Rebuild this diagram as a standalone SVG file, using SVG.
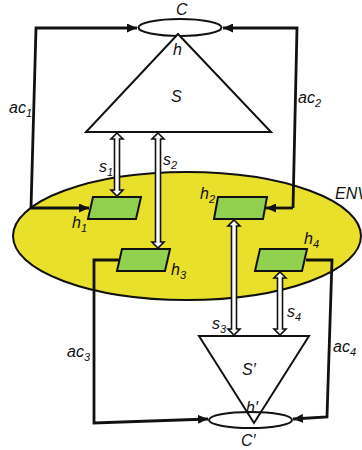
<svg xmlns="http://www.w3.org/2000/svg" width="362" height="450" viewBox="0 0 362 450">
<style>
.t{font-family:"Liberation Sans",Arial,sans-serif;font-style:italic;font-size:16px;fill:#111}
.sub{font-size:11px}
.ln{fill:none;stroke:#111;stroke-width:2.8;stroke-linejoin:miter}
.sh{fill:#fff;stroke:#111;stroke-width:2}
.hp{fill:#92D050;stroke:#111;stroke-width:2}
.da{fill:#fff;stroke:#111;stroke-width:1.6}
</style>
<defs>
<marker id="ah" markerUnits="userSpaceOnUse" markerWidth="10" markerHeight="9" refX="10" refY="4.5" orient="auto">
<path d="M0,0 L10,4.5 L0,9 Z" fill="#111"/>
</marker>
</defs>
<g id="ENV">
<ellipse cx="187" cy="236" rx="174" ry="64" fill="#E8E02A" stroke="#111" stroke-width="2"/>
<text class="t" x="335" y="199">ENV</text>
</g>
<g id="C">
<ellipse cx="180" cy="27.5" rx="41.5" ry="8.5" fill="#fff" stroke="#111" stroke-width="2"/>
<text class="t" x="176" y="15">C</text>
</g>
<g id="S">
<polygon class="sh" points="178,34 271,132 86,132"/>
<text class="t" x="173" y="55">h</text>
<text class="t" x="171" y="102">S</text>
</g>
<g id="Sp">
<polygon class="sh" points="199,336 309,336 254,423"/>
<text class="t" x="242" y="375">S′</text>
</g>
<g id="Cp">
<ellipse cx="250.5" cy="420" rx="41.5" ry="8" fill="none" stroke="#111" stroke-width="2"/>
<text class="t" x="246" y="413">h′</text>
<text class="t" x="241" y="446">C′</text>
</g>
<g id="h1">
<polygon class="hp" points="93,197 141,197 136,219 88,219"/>
<text class="t" x="72" y="228">h<tspan class="sub" dy="4">1</tspan></text>
</g>
<g id="h2">
<polygon class="hp" points="218,197 267,197 263,219 214,219"/>
<text class="t" x="200" y="199">h<tspan class="sub" dy="4">2</tspan></text>
</g>
<g id="h3">
<polygon class="hp" points="122,249 170,249 165,271 117,271"/>
<text class="t" x="171" y="275">h<tspan class="sub" dy="4">3</tspan></text>
</g>
<g id="h4">
<polygon class="hp" points="260,249 307,249 302,271 255,271"/>
<text class="t" x="304" y="244">h<tspan class="sub" dy="4">4</tspan></text>
</g>
<g id="connectors">
<polyline class="ln" points="31,208 36,28 137,28" marker-end="url(#ah)"/>
<polyline class="ln" points="31,208 89,208" marker-end="url(#ah)"/>
<polyline class="ln" points="293,208 297,28 223,28" marker-end="url(#ah)"/>
<polyline class="ln" points="293,208 266,208" marker-end="url(#ah)"/>
<polyline class="ln" points="119,260 94,260 94,423 208,419" marker-end="url(#ah)"/>
<polyline class="ln" points="306,260 332,260 327,417 293,419" marker-end="url(#ah)"/>
<path class="da" d="M117,133 L123,139 L119.5,139 L119.5,190 L123,190 L117,196 L111,190 L114.5,190 L114.5,139 L111,139 Z"/>
<path class="da" d="M158,133 L164,139 L160.5,139 L160.5,242 L164,242 L158,248 L152,242 L155.5,242 L155.5,139 L152,139 Z"/>
<path class="da" d="M234,220 L240,226 L236.5,226 L236.5,329 L240,329 L234,335 L228,329 L231.5,329 L231.5,226 L228,226 Z"/>
<path class="da" d="M280,272 L286,278 L282.5,278 L282.5,329 L286,329 L280,335 L274,329 L277.5,329 L277.5,278 L274,278 Z"/>
<text class="t" x="9" y="113">ac<tspan class="sub" dy="4">1</tspan></text>
<text class="t" x="298" y="103">ac<tspan class="sub" dy="4">2</tspan></text>
<text class="t" x="67" y="357">ac<tspan class="sub" dy="4">3</tspan></text>
<text class="t" x="333" y="352">ac<tspan class="sub" dy="4">4</tspan></text>
<text class="t" x="99" y="172">s<tspan class="sub" dy="4">1</tspan></text>
<text class="t" x="163" y="165">s<tspan class="sub" dy="4">2</tspan></text>
<text class="t" x="212" y="329">s<tspan class="sub" dy="4">3</tspan></text>
<text class="t" x="287" y="317">s<tspan class="sub" dy="4">4</tspan></text>
</g>
</svg>
